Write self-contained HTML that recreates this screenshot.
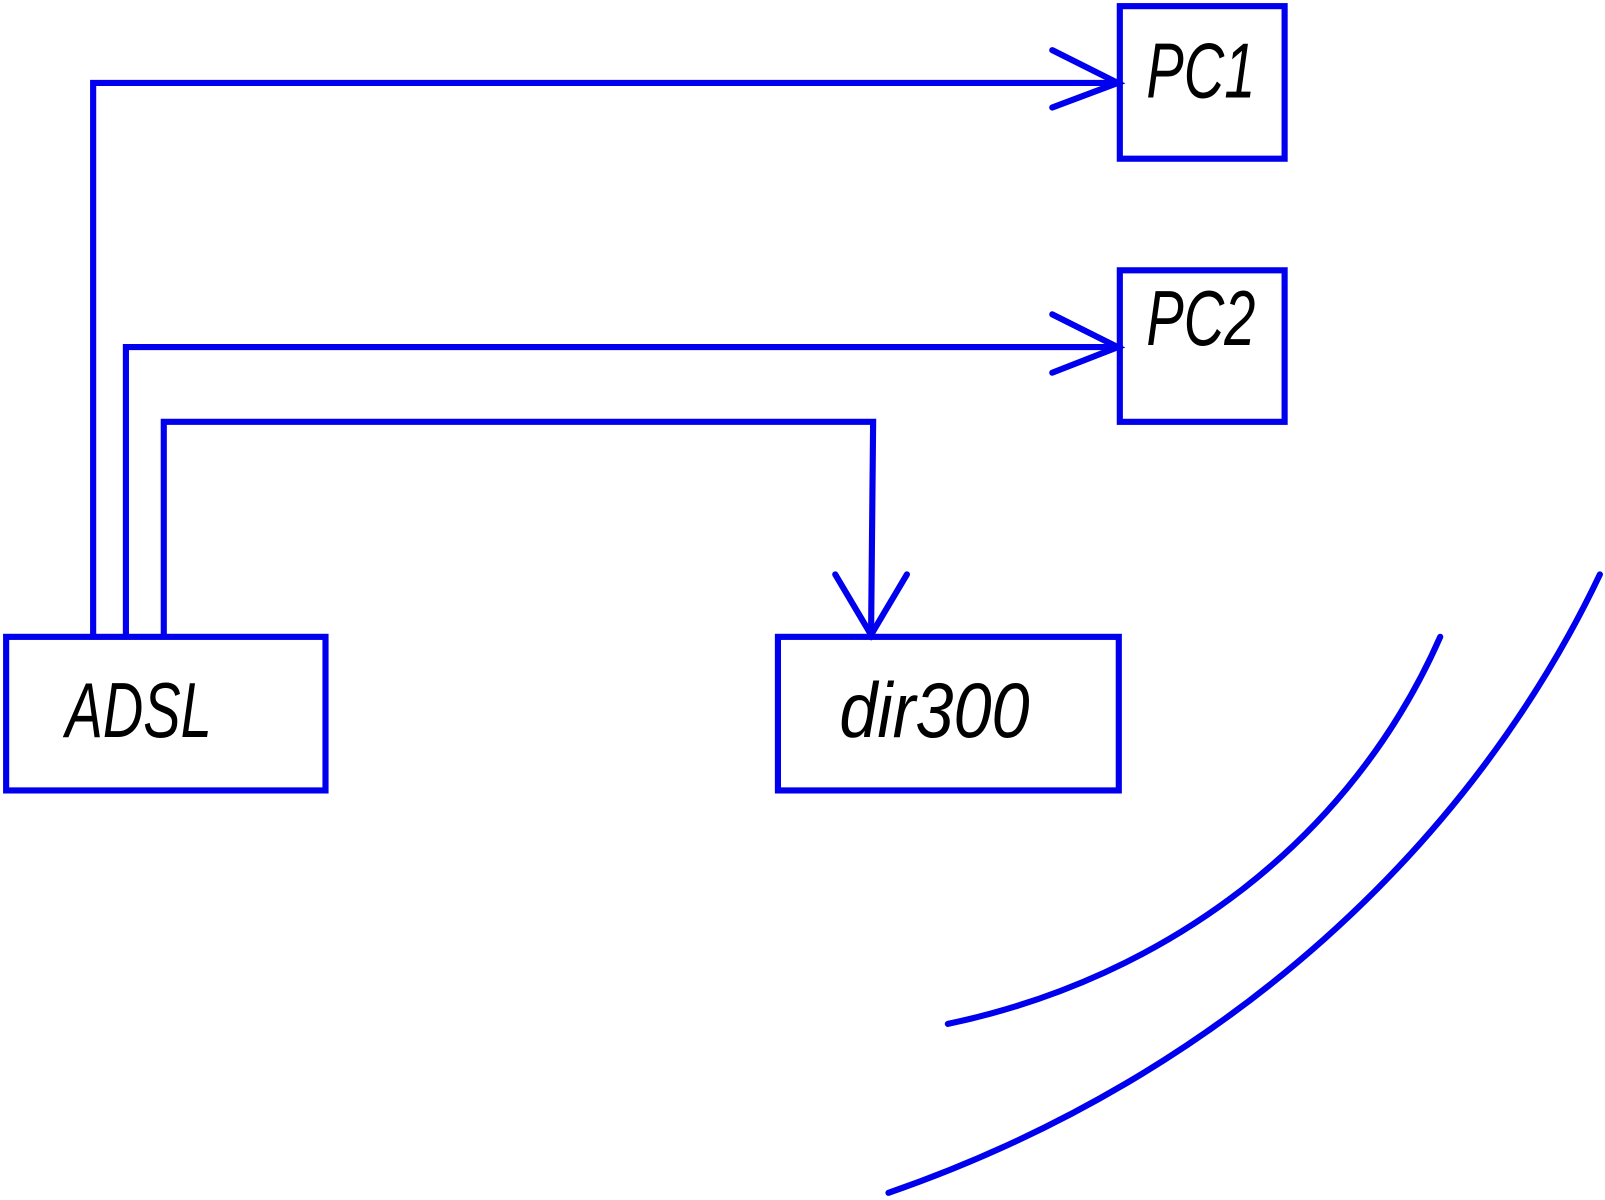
<!DOCTYPE html>
<html><head><style>html,body{margin:0;padding:0;background:#fff;}svg{display:block}</style></head>
<body>
<svg width="1605" height="1200" viewBox="0 0 1568 1172" preserveAspectRatio="none" xmlns="http://www.w3.org/2000/svg">
<g fill="none" stroke="#0000ee" stroke-width="6" stroke-linecap="round" stroke-linejoin="miter">
<rect x="1094" y="6" width="161" height="149"/>
<rect x="1094" y="264" width="161" height="148"/>
<rect x="6" y="622" width="312" height="150"/>
<rect x="760" y="622" width="333" height="150"/>
<polyline points="91,620 91,81 1092,81"/>
<polyline points="1028,49 1092,81 1028,105"/>
<polyline points="123,620 123,339 1092,339"/>
<polyline points="1028,307 1092,339 1028,364"/>
<polyline points="160,620 160,412 853,412 851,618"/>
<polyline points="816,561 851,620 886,561"/>
<path d="M926,1000 C1140,955 1320,820 1407,622"/>
<path d="M868,1165 C1200,1050 1440,820 1563,561"/>
</g>
<g font-family="Liberation Sans, sans-serif" font-style="italic" fill="#000">
<text x="0" y="0" font-size="76" transform="translate(1120,95) scale(0.72,1)">PC1</text>
<text x="0" y="0" font-size="76" transform="translate(1120,337) scale(0.72,1)">PC2</text>
<text x="0" y="0" font-size="76" transform="translate(64,720) scale(0.72,1)">ADSL</text>
<text x="0" y="0" font-size="76" transform="translate(820,720) scale(0.88,1)">dir300</text>
</g>
</svg>
</body></html>
